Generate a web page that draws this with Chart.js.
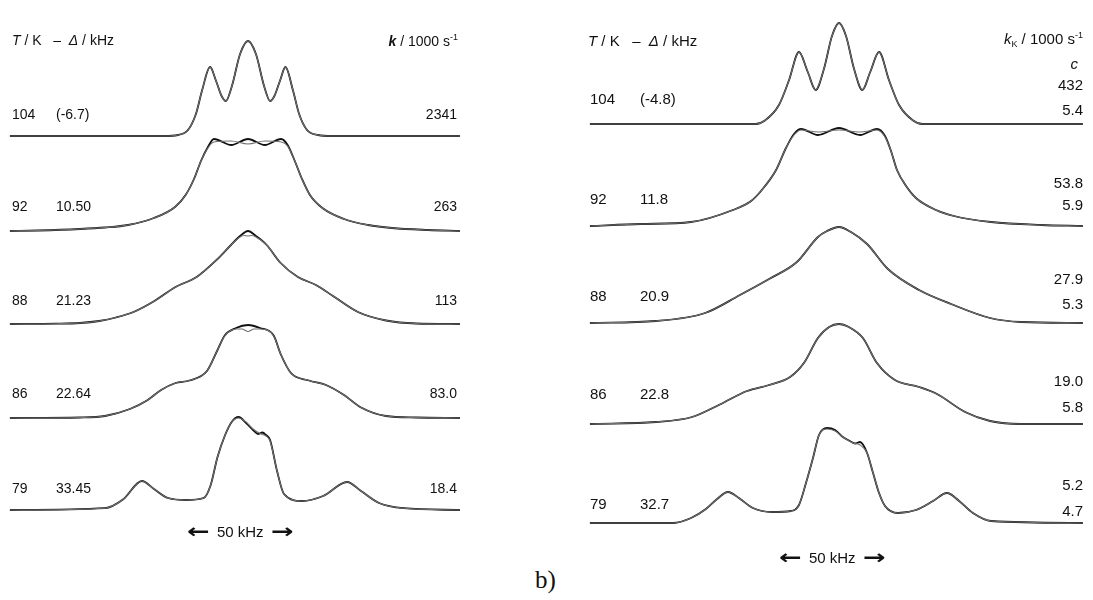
<!DOCTYPE html>
<html>
<head>
<meta charset="utf-8">
<script src="https://cdn.jsdelivr.net/npm/chart.js@4.4.0/dist/chart.umd.min.js"></script>
<style>
  body { margin: 0; background: #fff; }
  #page { position: relative; width: 1093px; height: 600px; overflow: hidden; background: #fff;
          font-family: "Liberation Sans", Arial, sans-serif; color: #111; }
  canvas { position: absolute; top: 0; }
  .lbl { position: absolute; font-size: 14px; line-height: 1; white-space: nowrap; transform: translateY(-50%); }
  .big { font-size: 15px; }
  .lbl sup { font-size: 9px; vertical-align: 6px; }
  .lbl sub { font-size: 9px; vertical-align: -3px; }
  .arrow { font-size: 15px; }
  .arrow b { display: inline-block; font-family: "DejaVu Sans", sans-serif; font-size: 20px; font-weight: bold;
             transform: scaleX(1.35); position: relative; top: 1px; margin: 0 6px; }
  #tag { position: absolute; font-family: "Liberation Serif", "DejaVu Serif", serif; font-size: 25px; }
</style>
</head>
<body>
<div id="page">
  <canvas id="leftChart" width="545" height="560" style="left:0"></canvas>
  <canvas id="rightChart" width="548" height="560" style="left:545px"></canvas>
</div>
<script>
// Spectra: [offset / kHz, intensity], exp = black, sim = gray
const expL104 = [[-99.2,0],[-35,0],[-29.2,1],[-25,6],[-21.7,22],[-19.2,45],[-15.8,69],[-13.3,55],[-11,40],[-9.2,35],[-6.7,50],[-3.3,82],[0,95],[3.3,82],[6.7,50],[9.2,35],[11,40],[13.3,55],[15.6,69],[18.8,45],[21.3,22],[24.6,6],[29.2,1],[35,0],[88.3,0]];
const simL104 = expL104;
const expL92 = [[-99.2,0],[-87.5,0.5],[-70,2],[-59.6,3.5],[-50,6],[-39.2,13],[-30.4,24],[-26,36],[-22.5,52],[-19.6,70],[-16.7,84],[-14.2,92],[-7,86],[0,92],[7,86],[13.8,92],[16.5,86],[19.5,70],[22.5,52],[25.8,36],[31,23],[40,12],[50,6],[60,3],[75,1],[88.3,0]];
const simL92 = [[-99.2,0],[-87.5,0.5],[-70,2],[-59.6,3.5],[-50,6],[-39.2,13],[-30.4,24],[-26,36],[-22.5,52],[-19.6,70],[-16.7,83],[-14.2,89],[-7,90],[0,87],[7,90],[13.8,89],[16.5,85],[19.5,70],[22.5,52],[25.8,36],[31,23],[40,12],[50,6],[60,3],[75,1],[88.3,0]];
const expL88 = [[-99.2,0],[-80,0.3],[-70,1],[-62,3],[-55,6.5],[-47.7,12],[-39,23],[-30.2,37],[-21.4,47],[-12.7,65],[-7.1,79],[-3.3,88],[0,93],[3.3,88],[7.8,79],[13.6,61],[20.8,47],[28.3,39],[35.4,28],[45.8,12],[57.5,3.5],[70,0.5],[88.3,0]];
const simL88 = [[-99.2,0],[-80,0.3],[-70,1],[-62,3],[-55,6.5],[-47.7,12],[-39,23],[-30.2,37],[-21.4,47],[-12.7,65],[-7.1,79],[-3.3,87],[-1.5,88.5],[0,88],[1.5,88.5],[3.3,87],[7.8,79],[13.6,61],[20.8,47],[28.3,39],[35.4,28],[45.8,12],[57.5,3.5],[70,0.5],[88.3,0]];
const expL86 = [[-99.2,0],[-70,0.5],[-59.6,2],[-49.2,9],[-42.1,17.5],[-36.2,28],[-30.2,35],[-24.4,37.5],[-17.1,47],[-12.7,68],[-9.7,82.5],[-5,90],[0,93],[5,90],[10.7,82.5],[13.6,64],[17.9,45],[25.4,37.5],[32.5,33],[40,23],[47.1,10.5],[57.5,2],[70,0.5],[88.3,0]];
const simL86 = [[-99.2,0],[-70,0.5],[-59.6,2],[-49.2,9],[-42.1,17.5],[-36.2,28],[-30.2,35],[-24.4,37.5],[-17.1,47],[-12.7,68],[-9.7,82],[-5,89],[-2.5,89],[0,86.5],[2.5,89],[5,89],[10.7,82],[13.6,64],[17.9,45],[25.4,37.5],[32.5,33],[40,23],[47.1,10.5],[57.5,2],[70,0.5],[88.3,0]];
const expL79 = [[-99.2,0],[-59.6,1.8],[-52.1,10.5],[-44.2,29],[-39.2,21],[-33.3,12],[-25.8,10],[-18.5,12],[-15.6,24.5],[-12.7,53],[-9.7,74],[-6.8,88],[-3.9,93],[-0.8,87],[2.1,80],[4.2,76],[6,77.5],[7.5,75],[9.2,70],[12.1,39],[15,16],[22.5,9],[31.3,14],[41.3,28],[47.1,19],[54.6,7],[64.8,1.8],[88.3,0]];
const simL79 = [[-99.2,0],[-59.6,1.8],[-52.1,10.5],[-44.2,29],[-39.2,21],[-33.3,12],[-25.8,10],[-18.5,12],[-15.6,24.5],[-12.7,53],[-9.7,74],[-6.8,88],[-3.9,92],[-0.8,88],[2.1,81],[5.4,76],[7.5,74],[9.2,69],[12.1,39],[15,16],[22.5,9],[31.3,14],[41.3,28],[47.1,19],[54.6,7],[64.8,1.8],[88.3,0]];

const expR104 = [[-95.8,0],[-32,0],[-28.5,3.5],[-23.1,19],[-19.2,44],[-15.4,72],[-12,52],[-9,34],[-5.8,55],[-2.7,88],[0,101],[2.7,88],[5.8,55],[9,34],[12,52],[15.4,72],[19.2,44],[23.1,19],[28.5,3.5],[32,0],[93.8,0]];
const simR104 = expR104;
const expR92 = [[-95.8,0],[-76.2,2],[-56.9,4],[-40.8,16],[-33.8,25],[-30,35],[-24.2,56],[-20.4,78],[-17.3,92],[-14.6,97],[-8.1,91],[0,98],[8.1,91],[14.6,97],[17.7,90],[20,75],[22.3,56],[25.8,40],[29.6,28],[37.3,16],[44.2,10],[58.5,4],[77.7,1],[93.8,0]];
const simR92 = [[-95.8,0],[-76.2,2],[-56.9,4],[-40.8,16],[-33.8,25],[-30,35],[-24.2,56],[-20.4,78],[-17.3,91],[-14.6,96],[-8.1,94],[0,96],[8.1,94],[14.6,96],[17.7,89],[20,75],[22.3,56],[25.8,40],[29.6,28],[37.3,16],[44.2,10],[58.5,4],[77.7,1],[93.8,0]];
const expR88 = [[-95.8,0],[-70.4,2],[-51.5,10],[-38.1,28],[-26.9,44],[-16.2,61],[-8.1,86],[-4.6,92],[0,96],[4.6,91],[10.8,79],[18.8,54],[30.8,33],[43.1,19],[58.1,5],[70,1],[93.8,0]];
const simR88 = expR88;
const expR86 = [[-95.8,0],[-70.4,2],[-56.5,7],[-46.2,19],[-35.4,33],[-26.9,39],[-18.8,47],[-13.5,61],[-8.1,86],[-3.8,97],[0,100],[3.8,97],[9.2,86],[14.6,61],[21.5,44],[30.8,37],[37.7,30],[48.5,12],[58.1,3],[70,0],[93.8,0]];
const simR86 = expR86;
const expR79 = [[-95.8,0],[-63.8,0],[-56.9,5],[-51.2,14],[-46.9,24],[-42.7,31],[-38.5,25],[-33.1,15],[-25.8,11],[-18.5,12],[-15.4,18],[-12.7,40],[-10,65],[-7.7,88],[-4.6,95],[-1.5,93],[1.5,86],[4.2,82],[6.2,79.5],[8.1,81],[10.8,70],[13.1,50],[15.4,30],[17.7,17],[22.7,10],[29.6,13],[36.2,22],[41.5,30],[46.2,22],[51.5,10],[58.5,2],[93.8,0]];
const simR79 = [[-95.8,0],[-63.8,0],[-56.9,5],[-51.2,14],[-46.9,24],[-42.7,31],[-38.5,25],[-33.1,15],[-25.8,11],[-18.5,12],[-15.4,18],[-12.7,40],[-10,65],[-7.7,88],[-4.6,94],[-1.5,92],[1.5,86],[5.4,80],[8.1,78],[10.8,70],[13.1,50],[15.4,30],[17.7,17],[22.7,10],[29.6,13],[36.2,22],[41.5,30],[46.2,22],[51.5,10],[58.5,2],[93.8,0]];

// table values
const temps = ['104', '92', '88', '86', '79'];
const deltaL = ['(-6.7)', '10.50', '21.23', '22.64', '33.45'];
const rateL = ['2341', '263', '113', '83.0', '18.4'];
const deltaR = ['(-4.8)', '11.8', '20.9', '22.8', '32.7'];
const rateR = ['432', '53.8', '27.9', '19.0', '5.2'];
const cR = ['5.4', '5.9', '5.3', '5.8', '4.7'];

// layout: baseline of each trace (page px), label rows
const baseL = [136, 231, 324, 418, 510];
const baseR = [124, 226, 323, 424, 523];
const rowL = [114, 206, 300, 393, 488];
const rowR = [98, 198, 295, 393, 503];
const rateRowR = [84, 182, 278, 380, 484];
const cRowR = [109, 204, 303, 406, 510];

function buildChart(id, exps, sims, bases, center, pxPerKHz, width) {
  const datasets = [];
  exps.forEach((exp, i) => {
    const toPts = arr => arr.map(p => ({ x: p[0], y: bases[i] - p[1] }));
    datasets.push({
      data: toPts(exp), borderColor: '#101010', borderWidth: 1.8, order: 1
    });
    datasets.push({
      data: toPts(sims[i]), borderColor: '#707070', borderWidth: 1.1, order: 0
    });
  });

  return new Chart(document.getElementById(id), {
    type: 'line',
    data: { datasets: datasets },
    options: {
      responsive: false,
      animation: false,
      events: [],
      layout: { padding: 0 },
      elements: {
        point: { radius: 0 },
        line: { cubicInterpolationMode: 'monotone', fill: false }
      },
      scales: {
        x: { type: 'linear', display: false, min: -center / pxPerKHz, max: (width - center) / pxPerKHz },
        y: { type: 'linear', display: false, reverse: true, min: 0, max: 560 }
      },
      plugins: { legend: { display: false }, tooltip: { enabled: false } }
    }
  });
}

buildChart('leftChart',
  [expL104, expL92, expL88, expL86, expL79],
  [simL104, simL92, simL88, simL86, simL79],
  baseL, 248, 2.4, 545);

buildChart('rightChart',
  [expR104, expR92, expR88, expR86, expR79],
  [simR104, simR92, simR88, simR86, simR79],
  baseR, 294, 2.6, 548);

// text labels
const page = document.getElementById('page');
function addLabel(html, x, y, alignRight, cls) {
  const el = document.createElement('div');
  el.className = 'lbl' + (cls ? ' ' + cls : '');
  el.innerHTML = html;
  el.style.top = y + 'px';
  if (alignRight) el.style.right = (1093 - x) + 'px';
  else el.style.left = x + 'px';
  page.appendChild(el);
  return el;
}

addLabel('<i>T</i> / K &nbsp;&nbsp;– &nbsp;<i>Δ</i> / kHz', 12, 40);
addLabel('<b><i>k</i></b> / 1000 s<sup>-1</sup>', 458, 40, true);
addLabel('<i>T</i> / K &nbsp;&nbsp;– &nbsp;<i>Δ</i> / kHz', 588, 40, false, 'big');
addLabel('<i>k</i><sub>K</sub> / 1000 s<sup>-1</sup>', 1083, 40, true, 'big');
addLabel('<i>c</i>', 1078, 63, true, 'big');

temps.forEach((t, i) => {
  addLabel(t, 12, rowL[i]);
  addLabel(deltaL[i], 56, rowL[i]);
  addLabel(rateL[i], 457, rowL[i], true);
  addLabel(t, 590, rowR[i], false, 'big');
  addLabel(deltaR[i], 640, rowR[i], false, 'big');
  addLabel(rateR[i], 1083, rateRowR[i], true, 'big');
  addLabel(cR[i], 1083, cRowR[i], true, 'big');
});

addLabel('<b>&larr;</b> 50 kHz <b>&rarr;</b>', 184, 530, false, 'arrow');
addLabel('<b>&larr;</b> 50 kHz <b>&rarr;</b>', 776, 556, false, 'arrow');

const tag = document.createElement('div');
tag.id = 'tag';
tag.textContent = 'b)';
tag.style.left = '535px';
tag.style.top = '566px';
page.appendChild(tag);
</script>
</body>
</html>
